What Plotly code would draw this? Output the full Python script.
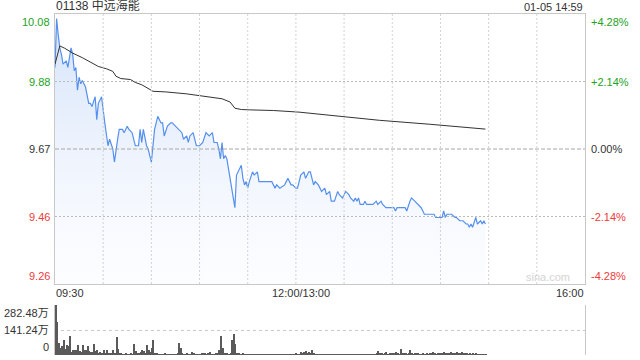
import plotly.graph_objects as go

# ---------------- data ----------------
title_text = "01138 中远海能"
stamp_text = "01-05 14:59"
prev_close = 9.67
pct_ticks = [4.28, 2.14, 0.0, -2.14, -4.28]
price_labels = ["10.08", "9.88", "9.67", "9.46", "9.26"]
pct_labels = ["+4.28%", "+2.14%", "0.00%", "-2.14%", "-4.28%"]
time_labels = ["09:30", "12:00/13:00", "16:00"]
time_label_min = [0, 150, 330]
vol_tick_vals = [282.48, 141.24, 0]
vol_tick_labels = ["282.48万", "141.24万", "0"]

# minute offsets from the open (09:30 = 0, 12:00/13:00 = 150, 16:00 = 330)
price_min = [0, 1, 2, 3, 4, 5, 7, 8, 10, 11, 12, 13, 14, 15, 16, 17, 18, 19, 21, 22,
             23, 25, 26, 27, 29, 30, 31, 33, 34, 36, 37, 39, 40, 42, 43, 45, 46, 48, 50, 52,
             53, 54, 55, 57, 58, 60, 61, 62, 64, 66, 67, 68, 70, 72, 73, 75, 77, 79, 80, 82,
             83, 84, 86, 88, 90, 92, 94, 96, 98, 99, 101, 102, 103, 104, 105, 106, 107, 108, 110, 112,
             113, 115, 116, 117, 118, 119, 120, 121, 123, 124, 126, 127, 135, 137, 138, 140, 143, 145, 147, 148,
             150, 151, 153, 155, 156, 158, 159, 161, 162, 164, 165, 166, 168, 169, 171, 172, 174, 176, 177, 179,
             181, 183, 184, 186, 187, 188, 189, 190, 192, 193, 194, 198, 200, 201, 203, 204, 206, 211, 212, 213,
             218, 219, 221, 222, 224, 226, 228, 230, 236, 237, 241, 242, 243, 244, 247, 249, 250, 252, 254, 256,
             257, 258, 259, 260, 262, 263, 265, 266, 267, 268]
price = [9.92, 10.07, 10.02, 9.98, 9.96, 9.93, 9.94, 9.92, 9.98, 9.96, 9.91, 9.92, 9.85, 9.89, 9.87, 9.88, 9.87, 9.86, 9.81, 9.81,
         9.80, 9.83, 9.76, 9.81, 9.83, 9.78, 9.75, 9.68, 9.70, 9.67, 9.63, 9.70, 9.73, 9.73, 9.72, 9.74, 9.73, 9.72, 9.68, 9.68,
         9.73, 9.69, 9.73, 9.68, 9.67, 9.63, 9.68, 9.73, 9.77, 9.75, 9.75, 9.71, 9.74, 9.75, 9.75, 9.74, 9.73, 9.72, 9.70, 9.71,
         9.69, 9.71, 9.72, 9.68, 9.68, 9.69, 9.72, 9.71, 9.72, 9.69, 9.69, 9.67, 9.64, 9.69, 9.64, 9.65, 9.64, 9.61, 9.55, 9.49,
         9.59, 9.61, 9.62, 9.58, 9.56, 9.57, 9.55, 9.57, 9.60, 9.59, 9.60, 9.57, 9.57, 9.55, 9.56, 9.55, 9.56, 9.58, 9.56, 9.56,
         9.55, 9.55, 9.59, 9.60, 9.58, 9.60, 9.60, 9.56, 9.57, 9.56, 9.55, 9.54, 9.55, 9.53, 9.54, 9.51, 9.51, 9.54, 9.53, 9.52,
         9.54, 9.53, 9.52, 9.51, 9.52, 9.51, 9.52, 9.50, 9.50, 9.51, 9.50, 9.50, 9.51, 9.50, 9.51, 9.50, 9.49, 9.49, 9.48, 9.49,
         9.49, 9.48, 9.51, 9.52, 9.51, 9.50, 9.49, 9.47, 9.47, 9.46, 9.46, 9.48, 9.46, 9.47, 9.47, 9.46, 9.46, 9.45, 9.45, 9.44,
         9.44, 9.43, 9.44, 9.43, 9.46, 9.44, 9.45, 9.44, 9.45, 9.44]

avg_min = [0, 3, 6, 11, 17, 23, 27, 32, 36, 38, 41, 47, 50, 54, 58, 61, 69, 76, 79, 82,
           104, 109, 112, 116, 121, 136, 152, 165, 202, 233, 268]
avg_price = [9.93, 9.986, 9.979, 9.964, 9.950, 9.933, 9.923, 9.916, 9.908, 9.893, 9.886, 9.883, 9.874, 9.867, 9.857,
             9.847, 9.845, 9.842, 9.839, 9.839, 9.824, 9.814, 9.795, 9.791, 9.790, 9.788, 9.783, 9.776, 9.758, 9.746, 9.731]

# volume (万) per minute, minutes 0..268
volume = [282.48, 188, 70, 38, 51, 85, 32, 56, 51, 105,
          19, 28, 28, 28, 56, 24, 19, 56, 28, 28,
          51, 24, 19, 19, 62, 24, 28, 13, 19, 13,
          28, 13, 28, 13, 13, 9, 28, 13, 100, 32,
          9, 9, 5, 5, 7, 5, 5, 9, 5, 62,
          24, 13, 9, 19, 28, 24, 13, 56, 30, 19,
          38, 85, 13, 9, 5, 5, 5, 5, 7, 5,
          5, 5, 5, 5, 5, 5, 9, 66, 40, 9,
          5, 5, 7, 5, 5, 19, 9, 5, 5, 5,
          5, 9, 13, 9, 5, 9, 19, 5, 5, 5,
          9, 13, 30, 105, 40, 9, 13, 9, 5, 13,
          85, 120, 62, 13, 9, 5, 5, 7, 5, 5,
          5, 5, 3, 5, 5, 3, 5, 5, 5, 3,
          5, 5, 3, 5, 5, 5, 3, 5, 5, 5,
          3, 5, 5, 5, 3, 5, 5, 5, 5, 5,
          7, 5, 5, 19, 9, 19, 24, 9, 19, 13,
          28, 9, 5, 5, 5, 3, 5, 5, 5, 5,
          5, 5, 3, 5, 5, 5, 5, 3, 5, 5,
          5, 5, 5, 3, 5, 5, 5, 5, 5, 3,
          5, 5, 5, 5, 5, 5, 5, 5, 3, 5,
          7, 24, 9, 13, 5, 9, 19, 5, 9, 13,
          9, 13, 19, 9, 5, 34, 9, 13, 9, 5,
          13, 28, 9, 5, 9, 13, 7, 5, 5, 9,
          5, 9, 5, 9, 7, 19, 9, 5, 13, 9,
          7, 9, 19, 9, 13, 9, 19, 13, 9, 13,
          19, 9, 13, 19, 9, 13, 9, 5, 9, 5,
          9, 5, 7, 5, 5, 5, 3, 5, 5]
vol_min = list(range(len(volume)))

# ---------------- styling ----------------
FONT = "Arial, 'Liberation Sans', 'Noto Sans CJK SC', sans-serif"
GREEN = "#22a322"
RED = "#ee3b3b"
DARK = "#333333"
GRID = "#bcbcbc"
BORDER = "#c8c8c8"

price_ticks = [prev_close * (1 + p / 100) for p in pct_ticks]
y_top, y_bot = price_ticks[0], price_ticks[-1]
label_colors = [GREEN, GREEN, DARK, RED, RED]

H_TOTAL = 360 - 14 - 5
main_bottom = (355 - 284) / H_TOTAL
vol_top = (355 - 305) / H_TOTAL

fig = go.Figure()

# invisible floor for the area fill (the bottom of the price axis)
fig.add_trace(go.Scatter(
    x=[price_min[0], price_min[-1]], y=[y_bot, y_bot], mode="lines",
    line=dict(width=0, color="rgba(0,0,0,0)"),
    hoverinfo="skip", showlegend=False, xaxis="x", yaxis="y"))

fig.add_trace(go.Scatter(
    x=price_min, y=price, mode="lines",
    line=dict(color="#5590ee", width=1.2),
    fill="tonexty",
    fillgradient=dict(type="vertical",
                      colorscale=[[0, "rgba(230,238,252,0.12)"], [1, "rgba(165,196,245,0.5)"]],
                      start=y_bot, stop=y_top),
    hoverinfo="skip", showlegend=False, xaxis="x", yaxis="y"))

fig.add_trace(go.Scatter(
    x=avg_min, y=avg_price, mode="lines",
    line=dict(color="#333333", width=1),
    hoverinfo="skip", showlegend=False, xaxis="x", yaxis="y"))

fig.add_trace(go.Bar(
    x=vol_min, y=volume, marker=dict(color="#5a5a5a", line=dict(width=0)),
    width=0.65, offset=0,
    hoverinfo="skip", showlegend=False, xaxis="x2", yaxis="y2"))

grid_x = list(range(30, 330, 30))

fig.update_layout(
    width=640, height=360,
    margin=dict(l=55, r=55, t=14, b=5),
    paper_bgcolor="white", plot_bgcolor="white",
    font=dict(family=FONT, size=11, color=DARK),
    bargap=0,
    xaxis=dict(domain=[0, 1], range=[0, 330], anchor="y",
               showticklabels=False, ticks="", showgrid=False,
               showline=True, mirror=True, linecolor=BORDER, linewidth=1,
               zeroline=False, fixedrange=True),
    yaxis=dict(domain=[main_bottom, 1], range=[y_bot, y_top], anchor="x",
               showticklabels=False, ticks="", showgrid=False,
               showline=True, mirror=True, linecolor=BORDER, linewidth=1,
               zeroline=False, fixedrange=True),
    xaxis2=dict(domain=[0, 1], range=[0, 330], anchor="y2",
                showticklabels=False, ticks="", showgrid=False,
                showline=False, zeroline=False, fixedrange=True),
    yaxis2=dict(domain=[0, vol_top], range=[0, vol_tick_vals[0]], anchor="x2",
                tickvals=vol_tick_vals[:2], showticklabels=False, ticks="",
                showgrid=True, gridcolor="#c8c8c8", griddash="dot", gridwidth=1,
                showline=True, mirror=True, linecolor=BORDER, linewidth=1,
                zeroline=False, fixedrange=True),
)

# grid of the price panel, drawn over the gradient fill
shapes = []
for gx in grid_x:
    shapes.append(dict(type="line", xref="x", yref="y", x0=gx, x1=gx, y0=y_bot, y1=y_top,
                       line=dict(color="#d2d2d2", width=1, dash="2px,2px"), layer="above"))
for gy in (price_ticks[1], price_ticks[3]):
    shapes.append(dict(type="line", xref="x", yref="y", x0=0, x1=330, y0=gy, y1=gy,
                       line=dict(color=GRID, width=1, dash="2px,2px"), layer="above"))
# previous-close reference line
shapes.append(dict(type="line", xref="x", yref="y", x0=0, x1=330, y0=prev_close, y1=prev_close,
                   line=dict(color="#a8a8a8", width=1, dash="4px,2px"), layer="above"))

ann = []
# price labels (left) and percentage labels (right)
for i, (pv, pl, cl, col) in enumerate(zip(price_ticks, price_labels, pct_labels, label_colors)):
    if i == 0:
        ya = "top"
    elif i == len(price_ticks) - 1:
        ya = "bottom"
    else:
        ya = "middle"
    ann.append(dict(xref="paper", yref="y", x=0, y=pv, text=pl, showarrow=False,
                    xanchor="right", yanchor=ya, xshift=-3, font=dict(color=col, size=11)))
    ann.append(dict(xref="paper", yref="y", x=1, y=pv, text=cl, showarrow=False,
                    xanchor="left", yanchor=ya, xshift=4, font=dict(color=col, size=11)))

# time labels
anchors = ["left", "center", "right"]
shifts = [-1, 5, 1]
for t, m, a, s in zip(time_labels, time_label_min, anchors, shifts):
    ann.append(dict(xref="x", yref="paper", x=m, y=main_bottom, text=t, showarrow=False,
                    xanchor=a, yanchor="top", xshift=s, yshift=-1, font=dict(color=DARK, size=11)))

# volume labels
for i, (v, l) in enumerate(zip(vol_tick_vals, vol_tick_labels)):
    ya = "top" if i == 0 else ("bottom" if i == len(vol_tick_vals) - 1 else "middle")
    ann.append(dict(xref="paper", yref="y2", x=0, y=v, text=l, showarrow=False,
                    xanchor="right", yanchor=ya, xshift=-4, font=dict(color=DARK, size=11)))

# title & timestamp
ann.append(dict(xref="paper", yref="paper", x=0, y=1, text=title_text, showarrow=False,
                xanchor="left", yanchor="bottom", xshift=-1, yshift=-1, font=dict(color=DARK, size=12)))
ann.append(dict(xref="paper", yref="paper", x=1, y=1, text=stamp_text, showarrow=False,
                xanchor="right", yanchor="bottom", xshift=0, yshift=-1, font=dict(color=DARK, size=11)))

# watermark
ann.append(dict(xref="paper", yref="paper", x=0.975, y=main_bottom, text="sina.com", showarrow=False,
                xanchor="right", yanchor="bottom", yshift=-1, font=dict(color="#d4d4d4", size=11)))

fig.update_layout(shapes=shapes, annotations=ann)

fig.write_html("out.html")
